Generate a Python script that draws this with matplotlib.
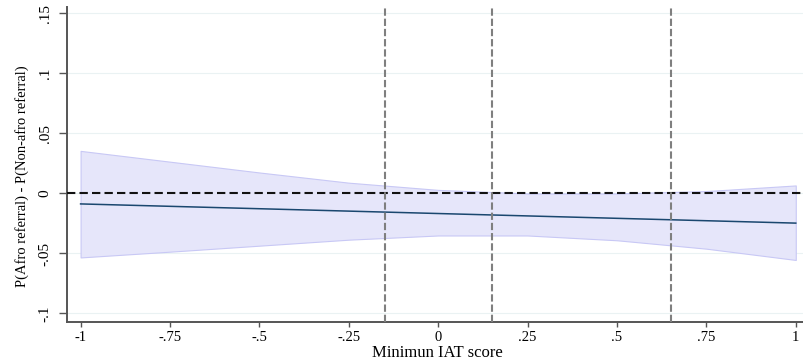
import matplotlib
matplotlib.use("Agg")
import matplotlib.pyplot as plt

# Data
x_vals = [-1, -0.75, -0.5, -0.25, 0, 0.25, 0.5, 0.75, 1]
effect = [-0.0087, -0.0107, -0.0127, -0.0147, -0.0167, -0.0187, -0.0207, -0.0227, -0.0247]
ci_upper = [0.0355, 0.0265, 0.0175, 0.009, 0.003, 0.0, 0.0, 0.002, 0.0067]
ci_lower = [-0.0533, -0.0485, -0.0435, -0.0385, -0.035, -0.035, -0.039, -0.046, -0.0554]
cutoffs = [-0.15, 0.15, 0.65]
x_ticks = [-1, -0.75, -0.5, -0.25, 0, 0.25, 0.5, 0.75, 1]
x_ticklabels = ["-1", "-.75", "-.5", "-.25", "0", ".25", ".5", ".75", "1"]
y_ticks = [-0.1, -0.05, 0, 0.05, 0.1, 0.15]
y_ticklabels = ["-.1", "-.05", "0", ".05", ".1", ".15"]

plt.rcParams['font.family'] = ['Liberation Serif', 'DejaVu Serif']

W, H = 804, 363
fig = plt.figure(figsize=(W / 100, H / 100), dpi=100)
ax = fig.add_axes([67 / W, 1 - 322 / H, 1 - 67 / W, (322 - 7) / H])

ax.fill_between(x_vals, ci_lower, ci_upper, facecolor='#e6e6fa', edgecolor='#c8c8f5', linewidth=0.8, zorder=2)
ax.plot(x_vals, effect, color='#1a476f', linewidth=1.1, zorder=3)
ax.axhline(0, color='#111111', linestyle=(0, (4, 2)), linewidth=1.5, zorder=4)
for c in cutoffs:
    ax.axvline(c, color='#7f7f7f', linestyle=(0, (3.5, 1.4)), linewidth=1.5, zorder=4)

ax.set_xlim(-1.038, 1.023)
ax.set_ylim(-0.1071, 0.1554)
ax.set_xticks(x_ticks)
ax.set_xticklabels(x_ticklabels, fontsize=10.5)
ax.set_yticks(y_ticks)
ax.set_yticklabels(y_ticklabels, fontsize=11, rotation=90, va='center')
for y in y_ticks:
    ax.axhline(y, color='#eaf2f3', linewidth=0.8, zorder=1)

for s in ['top', 'right']:
    ax.spines[s].set_visible(False)
for s in ['left', 'bottom']:
    ax.spines[s].set_color('#555555')
    ax.spines[s].set_linewidth(1.4)
ax.tick_params(axis='x', direction='out', length=3.5, width=1.0, color='#555555', pad=3)
ax.tick_params(axis='y', direction='out', length=6, width=1.0, color='#555555', pad=5)

fig.text(437 / W, 1 - 357 / H, "Minimun IAT score", fontsize=12, ha='center', va='baseline')
fig.text(22 / W, 1 - 176 / H, "P(Afro referral) - P(Non-afro referral)", fontsize=10.5,
         rotation=90, ha='center', va='center')

fig.savefig("out.png", dpi=100)
